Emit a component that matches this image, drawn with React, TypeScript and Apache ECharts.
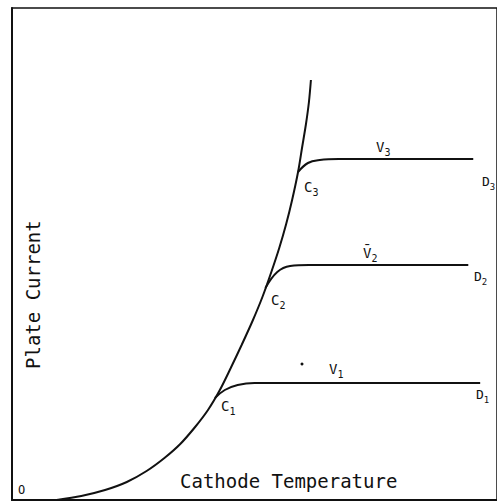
import React, { useEffect, useRef } from "react";
import * as echarts from "echarts";

// Units: x = temperature (arbitrary), y = plate current (arbitrary)
const emissionCurve: [number, number][] = [
  [45, 0], [70, 4], [94, 10], [116, 18], [136, 29], [154, 42], [170, 56], [185, 73],
  [198, 90], [210, 110], [221, 132], [232, 155], [243, 179], [253, 203], [262, 228],
  [270, 252], [277, 276], [283, 300], [289, 328], [293, 352], [297, 376], [300, 398], [302, 420],
];
const branchV1: [number, number][] = [[205, 102], [215, 110], [228, 115], [245, 117], [270, 117], [473, 117]];
const branchV2: [number, number][] = [[256, 212], [268, 228], [281, 234], [300, 235], [320, 235], [461, 235]];
const branchV3: [number, number][] = [[289, 328], [299, 337], [311, 340], [330, 341], [350, 341], [466, 341]];

const seriesNames = ["emission", "V1", "V2", "V3"];

export default function App() {
  const ref = useRef<HTMLDivElement>(null);
  useEffect(() => {
    if (!ref.current) return;
    const chart = echarts.init(ref.current, null, { renderer: "svg" });
    const font = "DejaVu Sans Mono";
    const ink = "#111";
    const lineStyle = { color: ink, width: 2 };
    const mk = (name: string, data: [number, number][], smooth: number) => ({
      name,
      type: "line",
      data,
      smooth,
      showSymbol: false,
      symbol: "none",
      lineStyle,
      silent: true,
    });
    const lbl = (text: string, x: number, y: number, size = 14, extra: any = {}) => ({
      type: "text",
      x,
      y,
      style: {
        text,
        fill: ink,
        font: `${size}px "${font}"`,
        rich: { s: { fontSize: size - 4, fontFamily: font, verticalAlign: "bottom", padding: [0, 0, -3, 0], fill: ink } },
        ...extra,
      },
    });
    chart.setOption({
      animation: false,
      backgroundColor: "#fff",
      grid: { left: 12, right: -5, top: 8, bottom: 2, show: true, borderColor: ink, borderWidth: 1.5 },
      xAxis: {
        type: "value", min: 0, max: 490,
        axisLine: { show: true, lineStyle: { color: ink, width: 2 } },
        axisTick: { show: false }, axisLabel: { show: false }, splitLine: { show: false },
      },
      yAxis: {
        type: "value", min: 0, max: 492,
        axisLine: { show: true, lineStyle: { color: ink, width: 2 } },
        axisTick: { show: false }, axisLabel: { show: false }, splitLine: { show: false },
      },
      series: [
        mk(seriesNames[0], emissionCurve, 0.3),
        mk(seriesNames[1], branchV1, 0.4),
        mk(seriesNames[2], branchV2, 0.4),
        mk(seriesNames[3], branchV3, 0.4),
      ],
      graphic: [
        lbl("Cathode Temperature", 180, 471, 19),
        { ...lbl("Plate Current", 0, 0, 19), x: 23, y: 369, rotation: Math.PI / 2 },
        lbl("O", 18, 484, 12),
        lbl("V{s|3}", 376, 140, 14),
        lbl("V̄{s|2}", 363, 246, 14),
        lbl("V{s|1}", 329, 362, 14),
        lbl("D{s|3}", 482, 175, 13),
        lbl("D{s|2}", 474, 270, 13),
        lbl("D{s|1}", 476, 388, 13),
        lbl("C{s|3}", 304, 180, 14),
        lbl("C{s|2}", 271, 293, 14),
        lbl("C{s|1}", 221, 399, 14),
        { type: "circle", shape: { cx: 302, cy: 364, r: 1.5 }, style: { fill: ink } },
      ],
    });
    return () => chart.dispose();
  }, []);
  return <div ref={ref} style={{ position: "fixed", left: 0, top: 0, width: 497, height: 502 }} />;
}
